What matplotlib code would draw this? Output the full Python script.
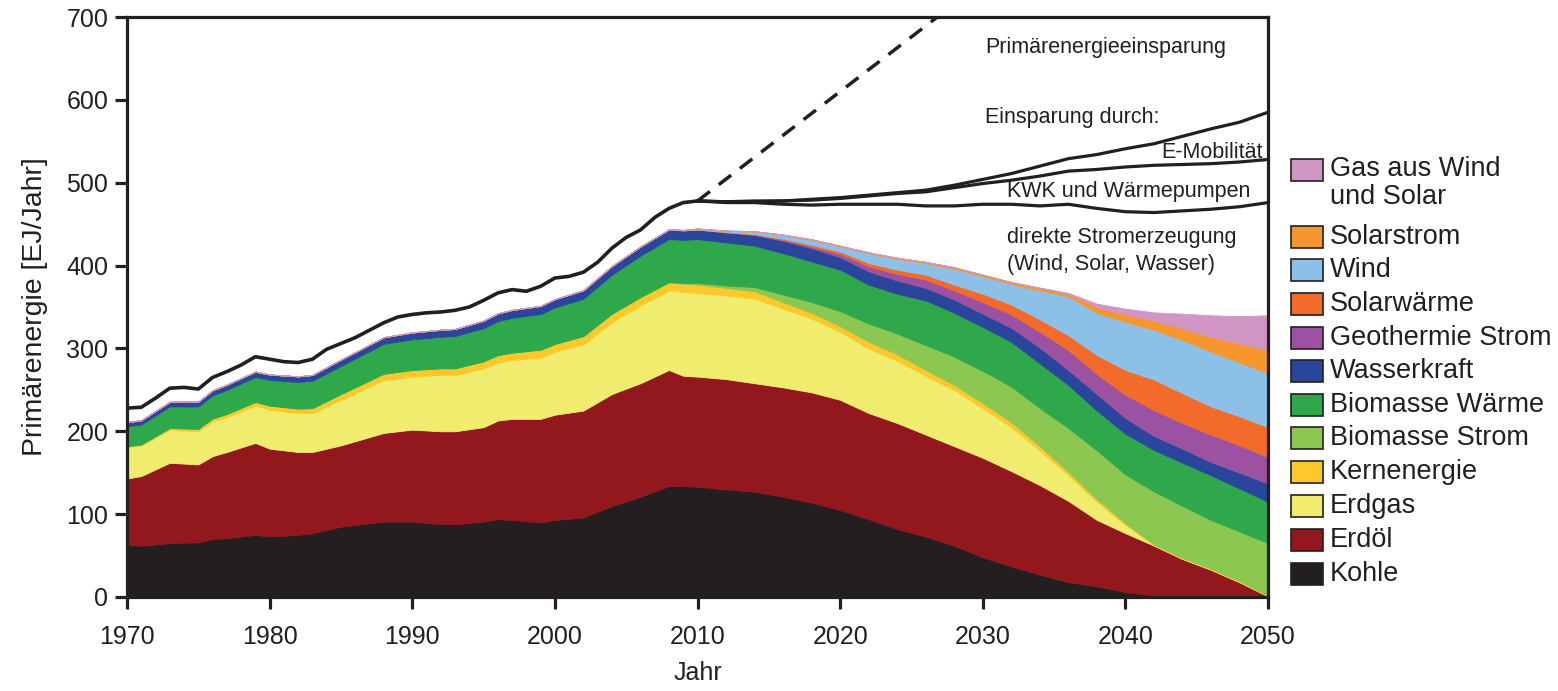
import numpy as np
import matplotlib
matplotlib.use('Agg')
import matplotlib.pyplot as plt
from matplotlib.patches import Rectangle

plt.rcParams['font.family'] = ['Liberation Sans', 'DejaVu Sans']

### Stack data [EJ/Jahr]
years = [1970, 1971, 1973, 1975, 1976, 1977, 1979, 1980, 1982, 1983, 1985, 1988, 1990,
         1992, 1993, 1995, 1996, 1997, 1999, 2000, 2002, 2004, 2006, 2008, 2009, 2010,
         2012, 2014, 2016, 2018, 2020, 2022, 2024, 2026, 2028, 2030, 2032, 2034, 2036,
         2038, 2040, 2042, 2044, 2046, 2048, 2050]

kohle = [63, 62, 65, 66, 70, 71, 75, 73, 75, 77, 85, 91, 91,
         88, 88, 91, 94, 93, 90, 93, 96, 110, 121, 134, 134, 133,
         130, 127, 121, 114, 105, 94, 82, 73, 62, 48, 37, 27, 18,
         13, 6, 2, 0, 0, 0, 0]
erdoel = [80, 84, 97, 94, 100, 104, 111, 106, 100, 98, 98, 107, 111,
          112, 112, 114, 119, 122, 125, 127, 129, 135, 137, 140, 133, 133,
          133, 131, 132, 133, 133, 128, 128, 123, 120, 120, 115, 108, 98,
          80, 71, 60, 46, 33, 18, 1]
erdgas = [38, 37, 40, 40, 42, 42, 45, 47, 47, 47, 55, 64, 64,
          68, 68, 71, 70, 71, 74, 76, 80, 87, 94, 96, 101, 101,
          101, 102, 95, 89, 82, 78, 75, 71, 68, 60, 53, 42, 31,
          22, 10, 0.5, 0, 0, 0, 0]
kern = [1, 1.2, 2, 3, 3.5, 4, 4.5, 5, 5.5, 6, 7, 7.5, 8,
        8, 8, 8.5, 9, 9, 9.5, 9.5, 10, 10, 10, 10, 10, 10,
        9, 9, 8, 7, 7, 8, 8, 7, 6, 6, 6, 5, 4,
        3, 2, 1, 1, 1, 1, 0.5]
bio_strom = [0, 0, 0, 0, 0, 0, 0, 0, 0, 0, 0, 0, 0,
             0, 0, 0, 0, 0, 0, 0, 0, 0, 0, 0, 1, 2,
             3, 5, 9, 13, 18, 22, 25, 30, 34, 39, 43, 46, 53,
             59, 59, 64, 63, 59, 60, 63.5]
bio_waerme = [24, 24, 26, 27, 28, 29, 30, 31, 32, 33, 34, 36, 37,
              38, 39, 40, 41, 42, 43, 44, 45, 47, 50, 52, 52, 53,
              52, 50, 50, 49, 50, 47, 48, 54, 53, 53, 54, 54, 52,
              48, 49, 50, 52, 54, 52, 50]
wasser = [5, 5.2, 5.5, 5.8, 6, 6.2, 6.5, 6.5, 6.8, 7, 7.5, 8, 8.3,
          8.5, 8.5, 9, 9.3, 9.5, 9.8, 10, 10.2, 10.5, 11, 11.5, 11.5, 11.5,
          12, 13, 15, 16, 15, 16, 16, 15, 16, 16, 17, 19, 18,
          20, 19, 17, 17, 16, 19, 22]
geo = [0]*25 + [0, 0.3, 0.5, 1, 2, 4, 6, 8, 10, 11, 14, 16, 19, 24,
                24, 28, 31, 31, 33, 33, 32]
solarwaerme = [0]*25 + [0, 0.3, 0.5, 1.5, 2, 3, 4, 5, 6, 7, 10, 12, 15, 18,
                        23, 30, 37, 36, 34, 35, 36]
wind = [0]*23 + [0.3, 0.5, 1, 1.4, 3, 4.5, 6, 6, 12, 13, 14, 19, 21, 25, 35, 47,
                 51, 58, 60, 64, 66, 65, 65]
solarstrom = [0]*25 + [0.3, 0.3, 0.5, 0.5, 0.8, 1, 1, 1.5, 1.5, 2, 2, 2, 3, 3,
                       7, 9, 11, 14, 18, 23, 28]
gas_ws = [0]*36 + [0.3, 0.5, 1, 4, 7, 10, 18, 26, 33, 42]

labels = ['Kohle', 'Erdöl', 'Erdgas', 'Kernenergie', 'Biomasse Strom', 'Biomasse Wärme',
          'Wasserkraft', 'Geothermie Strom', 'Solarwärme', 'Wind', 'Solarstrom',
          'Gas aus Wind\nund Solar']
colors = ['#231f20', '#93181d', '#f0ec6e', '#fdc82a', '#8cc751', '#2ea84a',
          '#2a459c', '#9c52a0', '#f26b2a', '#8dc0e6', '#f7962e', '#d196c4']

### Lines
tot_years = list(range(1970, 2011))
total = [228, 229, 240, 252, 253, 251, 265, 272, 280, 290, 287, 284, 283, 287, 299,
         306, 313, 322, 331, 338, 341, 343, 344, 346, 350, 358, 367, 371, 369, 375,
         385, 387, 392, 404, 421, 434, 443, 458, 469, 476, 478]

sc_years = list(range(2010, 2051, 2))
direkt = [478, 476, 476, 474, 473, 474, 474, 474, 472, 472, 474, 474, 472, 474,
          469, 465, 464, 466, 468, 471, 476]
kwk = [478, 477, 477, 478, 479, 481, 484, 487, 489, 494, 499, 503, 508, 514,
       516, 519, 521, 522, 523, 525, 528]
emob = [478, 477, 478, 478, 480, 482, 485, 488, 491, 497, 504, 511, 520, 529,
        534, 541, 547, 556, 565, 573, 585]

trend_years = [2010, 2050]
trend = [478, 1006]


def main():
    fig = plt.figure(figsize=(15.58, 6.91), dpi=100)
    ax = fig.add_axes([127/1558, 94/691, 1141/1558, 580/691])

    stack = [kohle, erdoel, erdgas, kern, bio_strom, bio_waerme, wasser, geo,
             solarwaerme, wind, solarstrom, gas_ws]
    ax.stackplot(years, *stack, colors=colors, lw=0.6, edgecolor='face')

    kc = '#231f20'
    ax.plot(tot_years, total, c=kc, lw=2.6, solid_joinstyle='round')
    for ln in [direkt, kwk, emob]:
        ax.plot(sc_years, ln, c=kc, lw=2.3, solid_joinstyle='round')
    ax.plot(trend_years, trend, c=kc, lw=2.5, ls=(0, (4.5, 3.2)))

    ax.set_xlim(1970, 2050)
    ax.set_ylim(0, 700)
    ax.set_xticks(range(1970, 2051, 10))
    ax.set_yticks(range(0, 701, 100))
    for s in ax.spines.values():
        s.set_linewidth(2.3)
        s.set_color(kc)
        s.set_zorder(5)
    ax.tick_params(axis='both', direction='out', length=8.5, width=2.3, color=kc,
                   labelsize=18, labelcolor=kc)
    ax.tick_params(axis='x', pad=12)
    ax.tick_params(axis='y', pad=5)
    ax.set_xlabel('Jahr', fontsize=18, color=kc, labelpad=8)
    ax.set_ylabel('Primärenergie [EJ/Jahr]', fontsize=20.5, color=kc, labelpad=13)

    ### Annotations
    tkw = dict(transform=ax.transAxes, fontsize=15.5, color=kc, va='center')
    ax.text(0.752, 0.948, 'Primärenergieeinsparung', ha='left', **tkw)
    ax.text(0.752, 0.826, 'Einsparung durch:', ha='left', **tkw)
    ax.text(0.995, 0.767, 'E-Mobilität', ha='right', **tkw)
    ax.text(0.771, 0.700, 'KWK und Wärmepumpen', ha='left', **tkw)
    ax.text(0.771, 0.619, 'direkte Stromerzeugung', ha='left', **tkw)
    ax.text(0.771, 0.574, '(Wind, Solar, Wasser)', ha='left', **tkw)

    ### Legend (top to bottom)
    row_y = [170, 237, 270, 304, 338, 371, 405, 438, 472, 506, 540, 574]
    for lab, col, py in zip(labels[::-1], colors[::-1], row_y):
        fx = 1291/1558
        fy = 1 - (py + 11)/691
        fig.add_artist(Rectangle((fx, fy), 32/1558, 22/691, transform=fig.transFigure,
                                 facecolor=col, edgecolor=kc, lw=1.2))
        ty = py + 13.5 if '\n' in lab else py
        fig.text(1330/1558, 1 - ty/691, lab, fontsize=19.5, color=kc, va='center',
                 ha='left', linespacing=1.1)

    fig.savefig('out.png', dpi=100)


if __name__ == "__main__":
    main()
